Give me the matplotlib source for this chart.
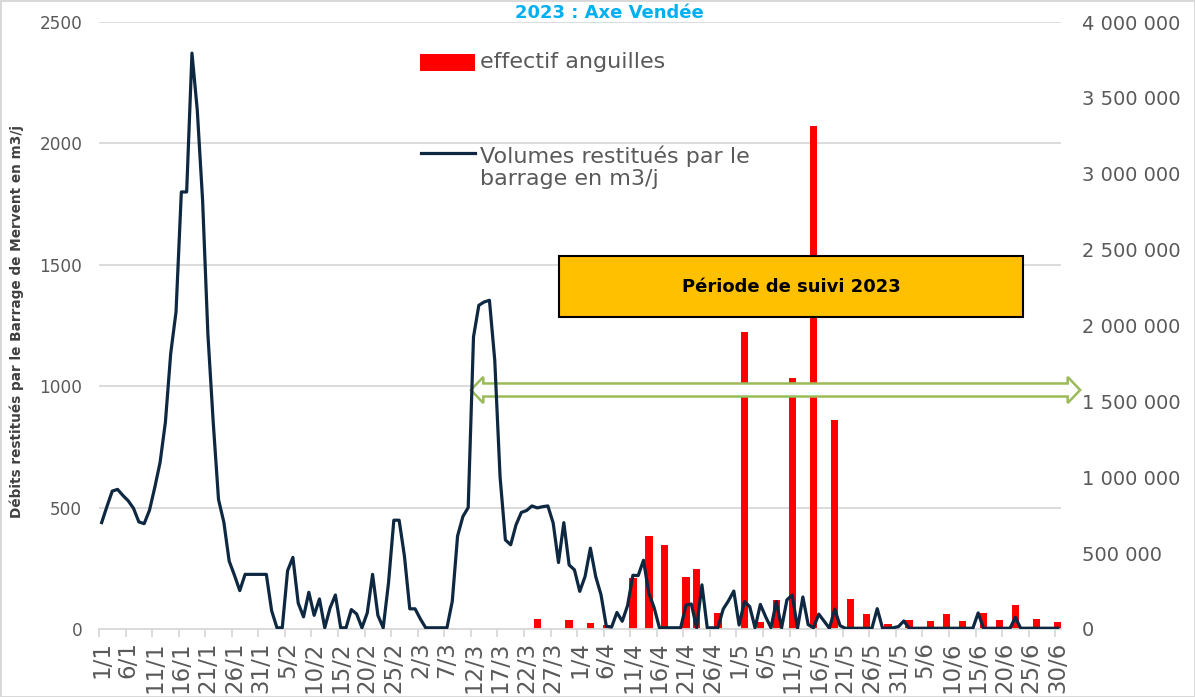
import numpy as np
import pandas as pd
import matplotlib
matplotlib.use('Agg')
import matplotlib.pyplot as plt
from matplotlib.patches import Rectangle, Polygon
from matplotlib.lines import Line2D
from matplotlib.ticker import FuncFormatter

# jours du 1/1 au 30/6/2023 (axe des categories)
days = pd.date_range('2023-01-01', '2023-06-30', freq='D')
day_labels = [f"{d.day}/{d.month}" for d in days]

# volumes restitues par le barrage, en milliers de m3/j
vol_jan = [701, 808, 909, 920, 880, 845, 795, 706, 694, 782, 933, 1098, 1363, 1816, 2090, 2880,
           2880, 3795, 3419, 2826, 1942, 1363, 853, 704, 448, 354, 253, 360, 360, 360, 360]
vol_feb = [360, 120, 8, 8, 384, 472, 171, 80, 242, 90, 198, 8, 139, 224, 8, 8, 128, 99, 8, 106,
           360, 90, 8, 304, 717, 717, 480, 133]
vol_mar = [133, 66, 8, 8, 8, 8, 8, 182, 613, 741, 800, 1925, 2133, 2155, 2166, 1771, 1003, 587,
           555, 686, 768, 781, 811, 798, 806, 811, 698, 438, 701, 422, 390]
vol_apr = [248, 346, 533, 346, 226, 18, 13, 109, 51, 154, 354, 352, 453, 237, 141, 8, 8, 8, 8, 8,
           158, 165, 8, 291, 8, 8, 8, 131, 186, 250]
vol_may = [26, 181, 147, 8, 162, 80, 8, 181, 8, 192, 224, 5, 211, 29, 8, 98, 51, 5, 131, 22,
           5, 5, 5, 5, 5, 5, 134, 5, 5, 8, 16]
vol_jun = [53, 5, 5, 5, 5, 5, 5, 5, 5, 5, 5, 5, 5, 5, 106, 5, 5, 5, 5, 5, 5, 77,
           5, 5, 5, 5, 5, 5, 5, 5]
volumes_k = vol_jan + vol_feb + vol_mar + vol_apr + vol_may + vol_jun

# effectif anguilles
eel_dates = ['24/3', '30/3', '3/4', '6/4', '11/4', '14/4', '17/4', '21/4', '23/4', '27/4',
             '2/5', '5/5', '8/5', '11/5', '15/5', '19/5', '22/5', '25/5', '29/5',
             '2/6', '6/6', '9/6', '12/6', '16/6', '19/6', '22/6', '26/6', '30/6']
eel_counts = [41, 37, 25, 18, 212, 381, 344, 214, 247, 66,
              1223, 29, 119, 1032, 2070, 862, 122, 62, 19,
              37, 33, 62, 31, 66, 37, 97, 41, 27]

left_ticks = [0, 500, 1000, 1500, 2000, 2500]
right_ticks = [0, 500000, 1000000, 1500000, 2000000, 2500000, 3000000, 3500000, 4000000]

x = np.arange(len(day_labels))
eel_x = [day_labels.index(d) for d in eel_dates]
volumes = np.array(volumes_k) * 1000

W, H = 1195, 697
fig = plt.figure(figsize=(W / 100, H / 100), dpi=100)
fig.patch.set_edgecolor('#D9D9D9')
fig.patch.set_linewidth(2)

ax = fig.add_axes([99 / W, 1 - 629 / H, (1060.5 - 99) / W, (629 - 22) / H])
ax2 = ax.twinx()

grey = '#D9D9D9'
txt = '#595959'

# barres (axe gauche)
ax.bar(eel_x, eel_counts, width=1.4, color='#FF0000', zorder=2)
ax.set_ylim(0, 2500)
ax.set_yticks(left_ticks)
ax.set_axisbelow(True)
ax.yaxis.grid(True, color=grey, lw=1.3)
ax.set_xlim(-0.5, 180.5)
ax.set_xticks(x[::5])
ax.set_xticklabels(day_labels[::5])
ax.set_xticks(np.arange(-0.5, 181, 5), minor=True)
ax.tick_params(axis='x', which='major', length=0, pad=9, labelsize=16.5,
               labelcolor=txt, labelrotation=90)
ax.tick_params(axis='x', which='minor', length=6, width=1.3, color=grey)
ax.tick_params(axis='y', length=0, pad=12, labelsize=12.2, labelcolor=txt)
for s in ['top', 'left', 'right']:
    ax.spines[s].set_visible(False)
ax.spines['bottom'].set_color(grey)
ax.spines['bottom'].set_linewidth(1.3)

# courbe des volumes (axe droit)
ax2.plot(x, volumes, color='#0E2841', lw=2.3, zorder=3)
ax2.set_ylim(0, 4000000)
ax2.set_yticks(right_ticks)
ax2.yaxis.set_major_formatter(FuncFormatter(lambda v, p: f"{int(v):,}".replace(',', ' ')))
ax2.tick_params(axis='y', length=0, pad=15.5, labelsize=14, labelcolor=txt)
for s in ax2.spines.values():
    s.set_visible(False)

# fleche de la periode de suivi
ax_x0, ax_x1 = 69.5, 184.2
ay = 1575000
shaft, head, hl = 43000, 86000, 2.35
pts = [(ax_x0, ay), (ax_x0 + hl, ay + head), (ax_x0 + hl, ay + shaft),
       (ax_x1 - hl, ay + shaft), (ax_x1 - hl, ay + head), (ax_x1, ay),
       (ax_x1 - hl, ay - head), (ax_x1 - hl, ay - shaft),
       (ax_x0 + hl, ay - shaft), (ax_x0 + hl, ay - head)]
ax2.add_patch(Polygon(pts, closed=True, facecolor='white', edgecolor='#9BBB59',
                      lw=1.8, zorder=1.5, clip_on=False))

# encadre jaune
fig.add_artist(Rectangle((559 / W, 1 - 317 / H), 464 / W, 61 / H, transform=fig.transFigure,
                         facecolor='#FFC000', edgecolor='black', lw=1.5, zorder=5))
fig.text(791 / W, 1 - 287 / H, 'Période de suivi 2023', ha='center', va='center',
         fontsize=13, fontweight='bold', color='black', zorder=6)

# titre et axe gauche
fig.text(609 / W, 1 - 13 / H, '2023 : Axe Vendée', ha='center', va='center',
         fontsize=13, fontweight='bold', color='#00B0F0')
fig.text(17 / W, 1 - 321 / H, 'Débits restitués par le Barrage de Mervent en m3/j',
         rotation=90, ha='center', va='center', fontsize=9.8, fontweight='bold', color='#404040')

# legende
fig.add_artist(Rectangle((420 / W, 1 - 71 / H), 55 / W, 17 / H, transform=fig.transFigure,
                         facecolor='#FF0000', edgecolor='none'))
fig.text(480 / W, 1 - 62 / H, 'effectif anguilles', ha='left', va='center',
         fontsize=16, color=txt)
fig.add_artist(Line2D([421 / W, 475 / W], [1 - 153 / H, 1 - 153 / H],
                      transform=fig.transFigure, color='#0E2841', lw=2.3))
fig.text(480 / W, 1 - 167.5 / H, 'Volumes restitués par le\nbarrage en m3/j', ha='left',
         va='center', fontsize=16, color=txt, linespacing=1.1)

fig.savefig('out.png', dpi=100)
